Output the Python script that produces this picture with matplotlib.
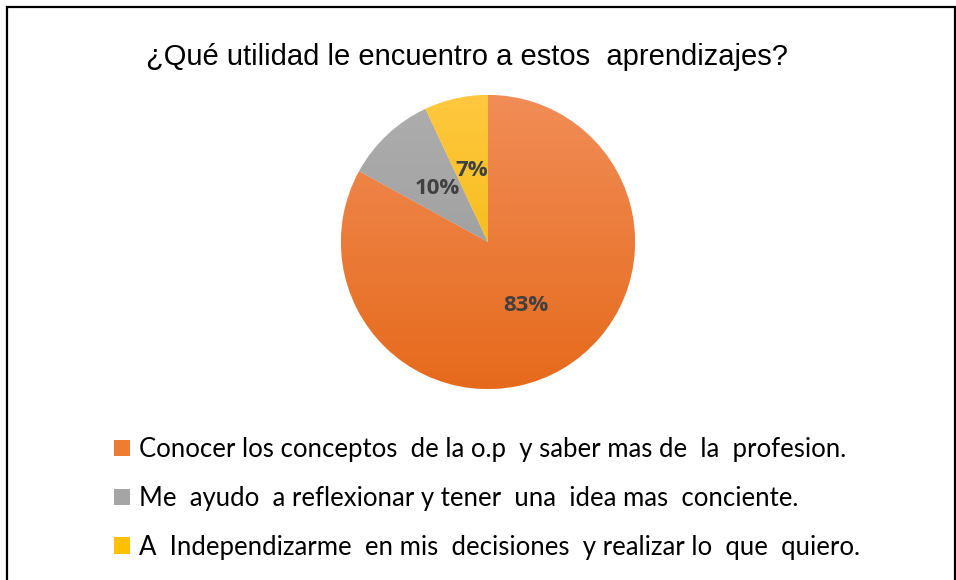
import numpy as np
import matplotlib
matplotlib.use('Agg')
import matplotlib.pyplot as plt
from matplotlib.patches import Rectangle

# Data
title = '¿Qué utilidad le encuentro a estos  aprendizajes?'
labels = ['Conocer los conceptos  de la o.p  y saber mas de  la  profesion.',
          'Me  ayudo  a reflexionar y tener  una  idea mas  conciente.',
          'A  Independizarme  en mis  decisiones  y realizar lo  que  quiero.']
values = [83, 10, 7]

# Gradient colours (top, bottom) per slice
colors = ['#ED7D31', '#A5A5A5', '#FFC000']
grad_top = ['#F18D57', '#AEAEAE', '#FFC83F']
grad_bottom = ['#E66A1C', '#959595', '#EFB300']

fig = plt.figure(figsize=(9.56, 5.8), dpi=100)

# Outer frame of the chart
fig.patches.append(Rectangle((7 / 956, -0.05), 947.5 / 956, 1 - 7 / 580 + 0.05,
                             transform=fig.transFigure, fill=False,
                             edgecolor='black', linewidth=1.6))

# Title
fig.text(467 / 956, 1 - 57 / 580, title, ha='center', va='center',
         fontsize=21, family='Liberation Sans', color='black')

# Pie axes
cx, cy, r = 488, 242, 150
ax = fig.add_axes([(cx - r) / 956, (580 - cy - r) / 580, 2 * r / 956, 2 * r / 580])
wedges, texts, autotexts = ax.pie(values, colors=colors, startangle=90, counterclock=False,
                                  autopct='%1.0f%%', pctdistance=0.5,
                                  wedgeprops=dict(linewidth=0.5, edgecolor='white'),
                                  textprops=dict(color='#404040', fontweight='bold',
                                                 fontsize=16, family='Open Sans'))
ax.set_xlim(-1.02, 1.02)
ax.set_ylim(-1.02, 1.02)
ax.set_aspect('equal')
ax.axis('off')

# Vertical gradient inside each wedge
for w, top, bot in zip(wedges, grad_top, grad_bottom):
    c1 = np.array(matplotlib.colors.to_rgb(top))
    c2 = np.array(matplotlib.colors.to_rgb(bot))
    t = np.linspace(0, 1, 256)[:, None]
    img = (c1 * (1 - t) + c2 * t)[:, None, :]
    im = ax.imshow(img, extent=(-1, 1, -1, 1), origin='upper', aspect='auto', zorder=1)
    im.set_clip_path(w)
    w.set_zorder(0)
for t_ in autotexts:
    t_.set_zorder(3)

# Legend
leg = fig.legend(wedges, labels, loc='upper left', bbox_to_anchor=(114 / 956, 1 - 437 / 580),
                 frameon=False, prop=dict(family='Lato', size=18.5),
                 handlelength=0.62, handleheight=0.62, handletextpad=0.35,
                 labelspacing=0.93, borderpad=0, borderaxespad=0)
for h in leg.legend_handles:
    h.set_edgecolor('none')

fig.savefig('out.png', dpi=100)
